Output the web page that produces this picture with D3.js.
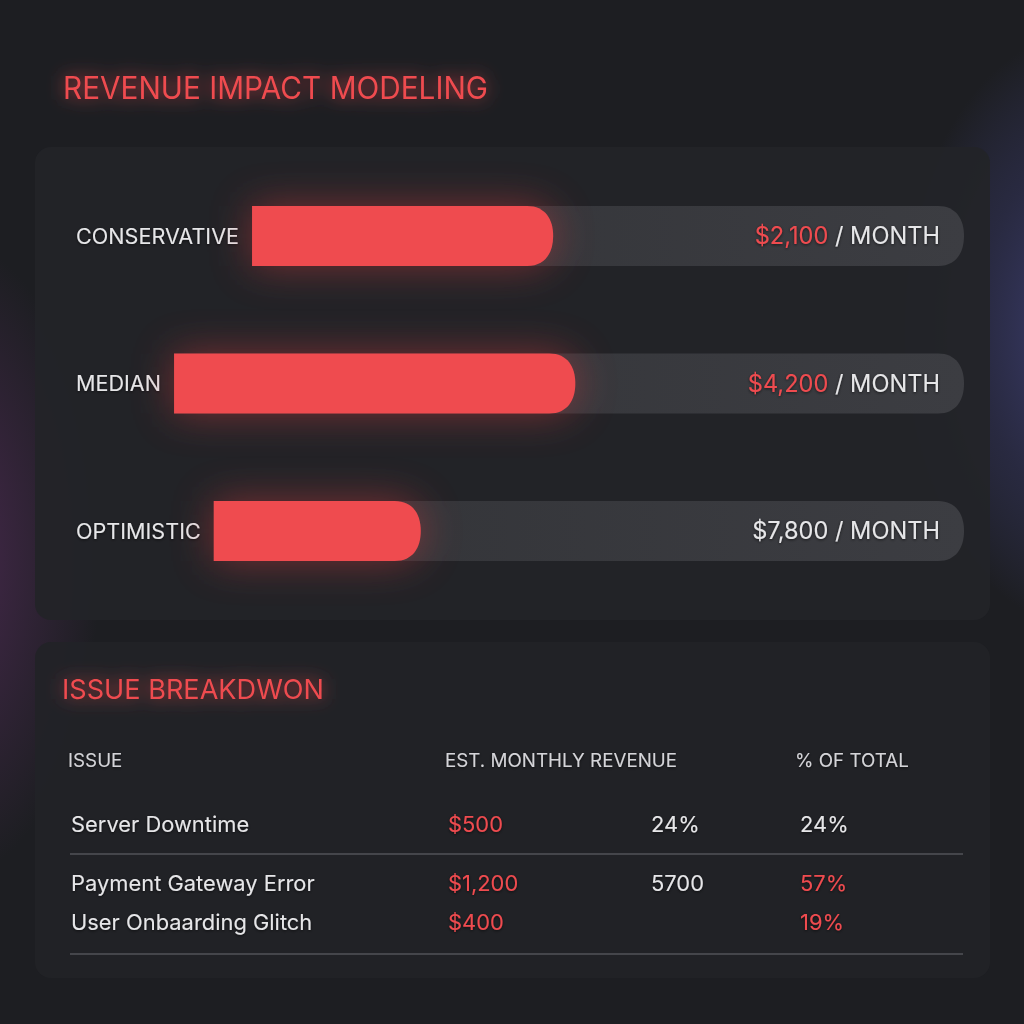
<!DOCTYPE html>
<html><head><meta charset="utf-8">
<script src="https://cdn.jsdelivr.net/npm/d3@7"></script>
<style>html,body{margin:0;padding:0;background:#1d1e22;}svg{display:block;}</style>
</head><body>
<svg id="c" width="1024" height="1024"></svg>
<script>
// ---- data ----
const scenarios = ["CONSERVATIVE", "MEDIAN", "OPTIMISTIC"];
const scenarioValues = ["$2,100", "$4,200", "$7,800"];
const valueHighlighted = [true, true, false];
const barFill = [42.3, 50.8, 27.6]; // filled share of each track, %
const tableHeaders = ["ISSUE", "EST. MONTHLY REVENUE", "% OF TOTAL"];
const issues = ["Server Downtime", "Payment Gateway Error", "User Onbaarding Glitch"];
const issueRevenue = ["$500", "$1,200", "$400"];
const issueExtra = ["24%", "5700", ""];
const issueShare = ["24%", "57%", "19%"];
const shareHighlighted = [false, true, true];

const RED = "#ef4b4f", TXT = "#e6e6e8";
const FONT = "Inter, 'Open Sans', sans-serif";
const svg = d3.select("#c");
const defs = svg.append("defs");

// background glows
const g1 = defs.append("radialGradient").attr("id","glowR").attr("cx","0.5").attr("cy","0.5").attr("r","0.5");
g1.append("stop").attr("offset","0").attr("stop-color","#40427a").attr("stop-opacity",1);
g1.append("stop").attr("offset","0.6").attr("stop-color","#34355e").attr("stop-opacity",0.5);
g1.append("stop").attr("offset","1").attr("stop-color","#3b3d70").attr("stop-opacity",0);
const g2 = defs.append("radialGradient").attr("id","glowL").attr("cx","0.5").attr("cy","0.5").attr("r","0.5");
g2.append("stop").attr("offset","0").attr("stop-color","#4c2a52").attr("stop-opacity",0.9);
g2.append("stop").attr("offset","1").attr("stop-color","#4c2a52").attr("stop-opacity",0);
const tg = defs.append("linearGradient").attr("id","track").attr("x1",0).attr("x2",1);
tg.append("stop").attr("offset",0).attr("stop-color","#323337");
tg.append("stop").attr("offset",1).attr("stop-color","#3c3d42");

const blur = defs.append("filter").attr("id","blur").attr("x","-40%").attr("y","-120%").attr("width","180%").attr("height","340%");
blur.append("feGaussianBlur").attr("stdDeviation",20);
const tglow = defs.append("filter").attr("id","tglow").attr("x","-20%").attr("y","-100%").attr("width","140%").attr("height","300%");
tglow.append("feGaussianBlur").attr("in","SourceGraphic").attr("stdDeviation",9).attr("result","b");
tglow.append("feComponentTransfer").attr("in","b").attr("result","b2")
  .append("feFuncA").attr("type","linear").attr("slope",0.8);
const fm = tglow.append("feMerge");
fm.append("feMergeNode").attr("in","b2");
fm.append("feMergeNode").attr("in","SourceGraphic");
const sh = defs.append("filter").attr("id","tsh").attr("x","-10%").attr("y","-50%").attr("width","120%").attr("height","200%");
sh.append("feDropShadow").attr("dx",0).attr("dy",1).attr("stdDeviation",1.5).attr("flood-color","#000").attr("flood-opacity",0.6);

svg.append("rect").attr("width",1024).attr("height",1024).attr("fill","#1d1e22");
svg.append("ellipse").attr("cx",1090).attr("cy",330).attr("rx",190).attr("ry",300).attr("fill","url(#glowR)");
svg.append("ellipse").attr("cx",-50).attr("cy",560).attr("rx",150).attr("ry",320).attr("fill","url(#glowL)");

// panels
svg.append("rect").attr("x",35).attr("y",147).attr("width",955).attr("height",473).attr("rx",16).attr("fill","#232428").attr("opacity",0.95);
svg.append("rect").attr("x",35).attr("y",642).attr("width",955).attr("height",336).attr("rx",16).attr("fill","#222327").attr("opacity",0.95);

// title
svg.append("text").attr("x",63).attr("y",99).attr("fill",RED).attr("font-family",FONT).attr("font-size",31)
  .attr("textLength",425).attr("lengthAdjust","spacingAndGlyphs")
  .attr("filter","url(#tglow)").text("REVENUE IMPACT MODELING");

// bars
const rowY = d3.scalePoint().domain(scenarios).range([236, 531]);
const barH = 60, trackEnd = 964, labelX = 76;
function roundRight(x0, x1, yc, h) {
  const r = h/2, rx = Math.min(26, (x1-x0));
  const p = d3.path();
  p.moveTo(x0, yc - r);
  p.lineTo(x1 - rx, yc - r);
  p.bezierCurveTo(x1 - rx*0.3, yc - r, x1, yc - r*0.55, x1, yc);
  p.bezierCurveTo(x1, yc + r*0.55, x1 - rx*0.3, yc + r, x1 - rx, yc + r);
  p.lineTo(x0, yc + r);
  p.closePath();
  return p.toString();
}
scenarios.forEach((s, i) => {
  const yc = rowY(s);
  const lbl = svg.append("text").attr("x", labelX).attr("y", yc).attr("dy","0.35em")
    .attr("fill", TXT).attr("font-family", FONT).attr("font-size", 21.6).attr("filter","url(#tsh)").text(s);
  const start = labelX + lbl.node().getComputedTextLength() + 13;
  const x = d3.scaleLinear().domain([0,100]).range([start, trackEnd]);
  svg.append("path").attr("d", roundRight(x(0), x(100), yc, barH)).attr("fill","url(#track)");
  svg.append("path").attr("d", roundRight(x(0), x(barFill[i]), yc, barH)).attr("fill", "#d23a40").attr("opacity",0.5).attr("filter","url(#blur)");
  svg.append("path").attr("d", roundRight(x(0), x(barFill[i]), yc, barH)).attr("fill", RED);
  const t = svg.append("text").attr("x", 940).attr("y", yc).attr("dy","0.35em").attr("text-anchor","end")
    .attr("font-family", FONT).attr("font-size", 23.6).attr("filter","url(#tsh)");
  t.append("tspan").attr("fill", valueHighlighted[i] ? RED : TXT).text(scenarioValues[i]);
  t.append("tspan").attr("fill", TXT).text(" / MONTH");
});

// table
svg.append("text").attr("x",62).attr("y",699).attr("fill",RED).attr("font-family",FONT).attr("font-size",27.5)
  .attr("textLength",262).attr("lengthAdjust","spacingAndGlyphs")
  .attr("filter","url(#tglow)").text("ISSUE BREAKDWON");
const colX = [68, 445, 795];
tableHeaders.forEach((h, i) => {
  svg.append("text").attr("x", colX[i]).attr("y", 760).attr("dy","0.35em").attr("fill","#d4d4d8")
    .attr("font-family", FONT).attr("font-size", 18.8).attr("filter","url(#tsh)").text(h);
});
const rowYs = d3.scaleOrdinal().domain(issues).range([824, 883, 922]);
const cells = [
  {arr: issues, x: 71, red: () => false},
  {arr: issueRevenue, x: 448, red: () => true},
  {arr: issueExtra, x: 651, red: () => false},
  {arr: issueShare, x: 800, red: i => shareHighlighted[i]}
];
issues.forEach((iss, i) => {
  cells.forEach(c => {
    svg.append("text").attr("x", c.x).attr("y", rowYs(iss)).attr("dy","0.35em")
      .attr("fill", c.red(i) ? RED : TXT).attr("font-family", FONT).attr("font-size", 21.9)
      .attr("filter","url(#tsh)").text(c.arr[i]);
  });
});
[854, 954].forEach(y => {
  svg.append("line").attr("x1",70).attr("x2",963).attr("y1",y).attr("y2",y).attr("stroke","#45464b").attr("stroke-width",2);
});
</script>
</body></html>
